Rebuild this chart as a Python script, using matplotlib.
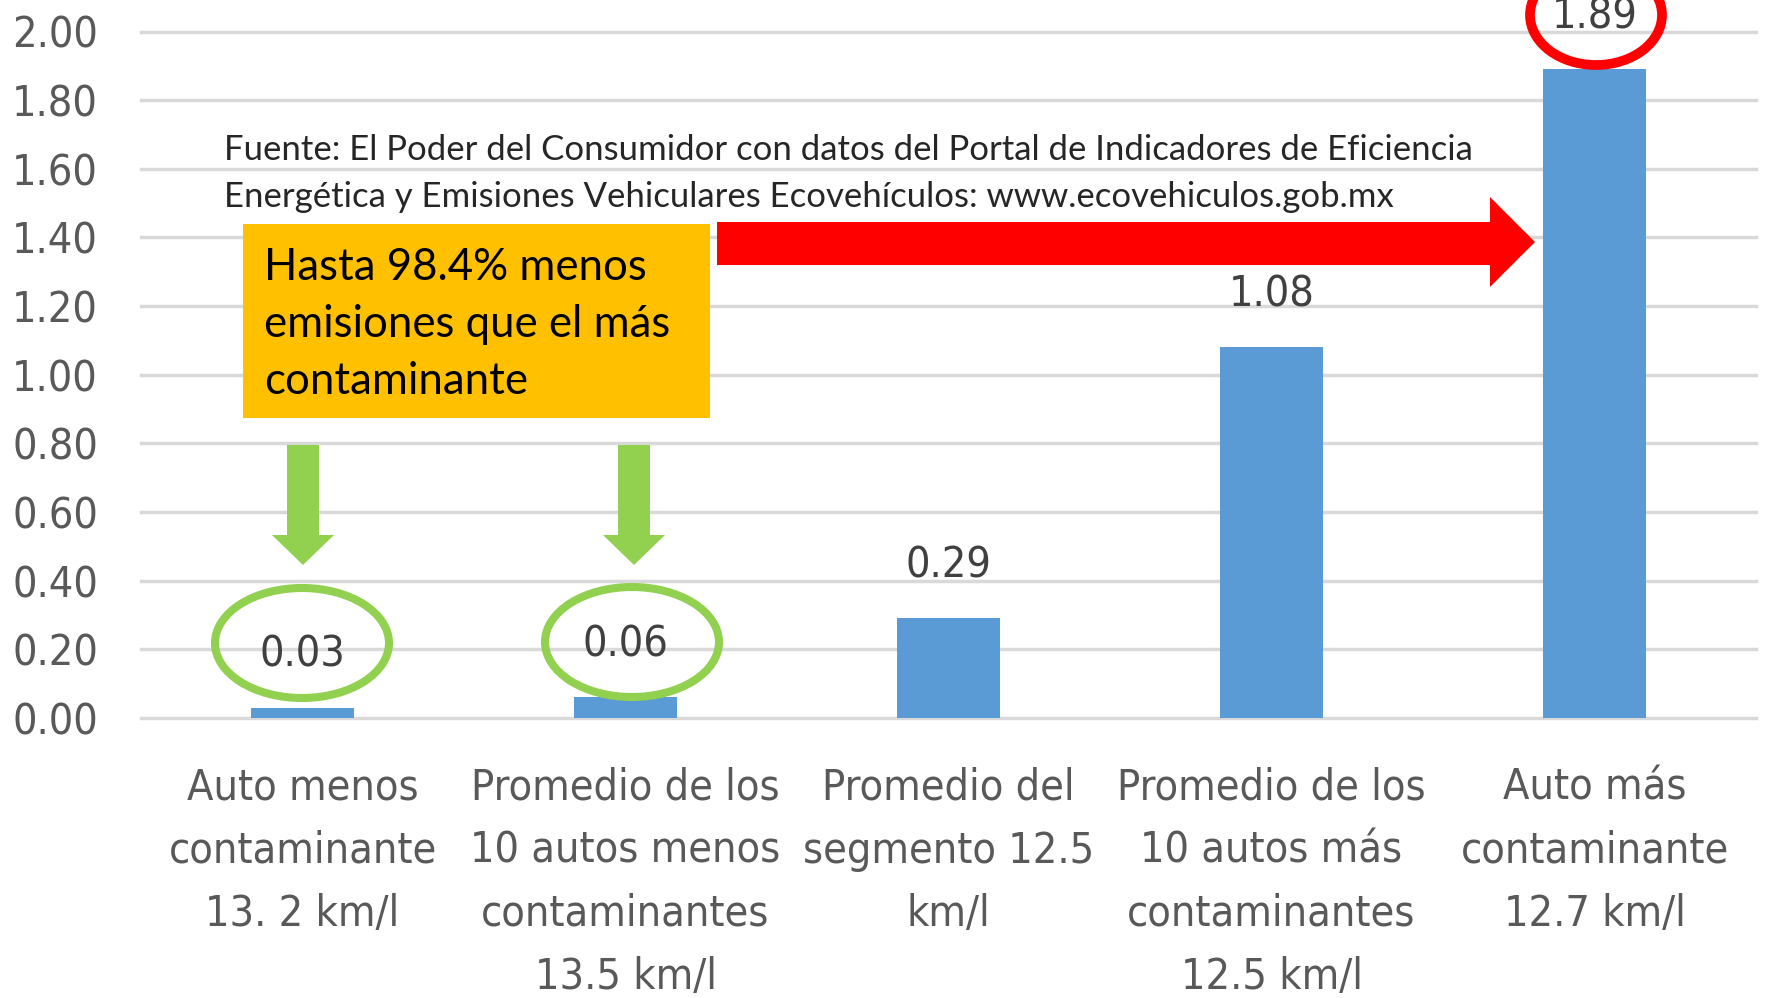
import matplotlib
matplotlib.use('Agg')
import matplotlib.pyplot as plt
from matplotlib.patches import Ellipse, Polygon, Rectangle

# Data
categories = ['Auto menos\ncontaminante\n13. 2 km/l',
              'Promedio de los\n10 autos menos\ncontaminantes\n13.5 km/l',
              'Promedio del\nsegmento 12.5\nkm/l',
              'Promedio de los\n10 autos más\ncontaminantes\n12.5 km/l',
              'Auto más\ncontaminante\n12.7 km/l']
values = [0.03, 0.06, 0.29, 1.08, 1.89]
y_ticks = [0.0, 0.2, 0.4, 0.6, 0.8, 1.0, 1.2, 1.4, 1.6, 1.8, 2.0]

source_lines = ['Fuente: El Poder del Consumidor con datos del Portal de Indicadores de Eficiencia',
                'Energética y Emisiones Vehiculares Ecovehículos: www.ecovehiculos.gob.mx']
box_lines = ['Hasta 98.4% menos', 'emisiones que el más', 'contaminante']

W, H = 1767, 998
NARROW = dict(family='DejaVu Sans', fontstretch='condensed')
NORMAL = ['Lato', 'DejaVu Sans']


def fpos(x, y):
    # pixel (top-left origin) -> figure fraction
    return x / W, 1 - y / H


fig = plt.figure(figsize=(W / 100, H / 100), dpi=100)
ax = fig.add_axes([141 / W, 1 - 718 / H, (1756 - 141) / W, (718 - 31.5) / H])

x = list(range(len(categories)))
ax.bar(x, values, width=0.32, color='#5B9BD5', zorder=3)
ax.set_xlim(-0.5, 4.5)
ax.set_ylim(0, 2.0)

ax.set_yticks(y_ticks)
ax.set_yticklabels([f'{v:.2f}' for v in y_ticks], fontsize=31, color='#595959', **NARROW)
ax.set_xticks(x)
ax.set_xticklabels(categories, fontsize=31, color='#595959', linespacing=1.64, **NARROW)
ax.tick_params(axis='both', length=0)
ax.tick_params(axis='y', pad=31)
ax.tick_params(axis='x', pad=35)

ax.yaxis.grid(True, color='#d9d9d9', linewidth=2.5)
for gl in ax.get_ygridlines():
    gl.set_clip_on(False)
ax.set_axisbelow(True)
for s in ax.spines.values():
    s.set_visible(False)

for i, v in enumerate(values):
    ax.annotate(f'{v:.2f}', (i, v), xytext=(0, 38), textcoords='offset points',
                ha='center', va='center', fontsize=31, color='#404040',
                annotation_clip=False, **NARROW)

# source note
for k, line in enumerate(source_lines):
    fig.text(*fpos(224, 150 + 47 * k), line, family=NORMAL, fontsize=25, color='#262626',
             va='center', ha='left')

# orange box
bx, by = fpos(243, 418)
fig.add_artist(Rectangle((bx, by), (710 - 243) / W, (418 - 224) / H,
                         transform=fig.transFigure, facecolor='#FFC000', edgecolor='none'))
for k, line in enumerate(box_lines):
    fig.text(*fpos(264, 267 + 57.5 * k), line, family=NORMAL, fontsize=31.5, color='black',
             va='center', ha='left')

# red arrow
red_pts = [(717, 222), (1490, 222), (1490, 197), (1535, 242), (1490, 287), (1490, 265), (717, 265)]
fig.add_artist(Polygon([fpos(px, py) for px, py in red_pts], closed=True,
                       transform=fig.transFigure, facecolor='#FF0000', edgecolor='none'))

# green arrows
for cx in [303, 634]:
    pts = [(cx - 16, 445), (cx + 16, 445), (cx + 16, 535), (cx + 31, 535),
           (cx, 565), (cx - 31, 535), (cx - 16, 535)]
    fig.add_artist(Polygon([fpos(px, py) for px, py in pts], closed=True,
                           transform=fig.transFigure, facecolor='#92D050', edgecolor='none'))

# ellipses
for cx, cy in [(302, 643), (632, 642)]:
    fig.add_artist(Ellipse(fpos(cx, cy), 174 / W, 110 / H, transform=fig.transFigure,
                           facecolor='none', edgecolor='#92D050', linewidth=5.8))
fig.add_artist(Ellipse(fpos(1596, 15), 132 / W, 100 / H, transform=fig.transFigure,
                       facecolor='none', edgecolor='#FF0000', linewidth=7))

fig.savefig('out.png', dpi=100)
